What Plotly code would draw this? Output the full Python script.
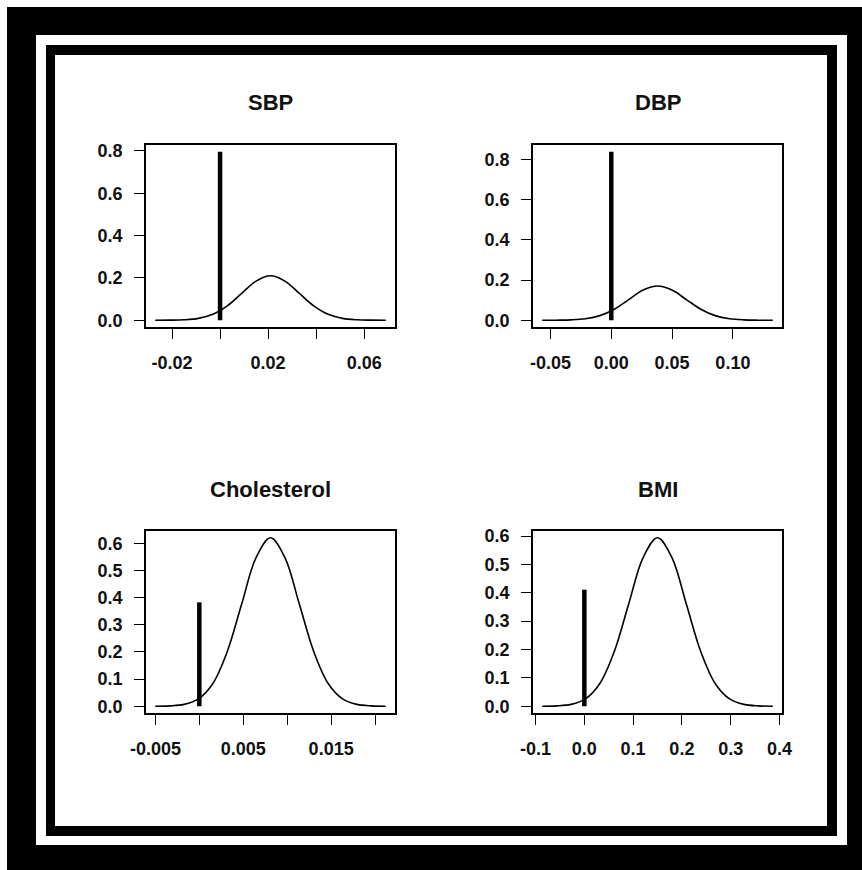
import plotly.graph_objects as go

W, H = 862, 870

# ---------------- data ----------------
titles = ["SBP", "DBP", "Cholesterol", "BMI"]

sbp_x = [-0.027, -0.021, -0.015, -0.009, -0.003, 0.003, 0.009, 0.015, 0.021,
         0.027, 0.033, 0.039, 0.045, 0.051, 0.057, 0.063, 0.069]
sbp_y = [0.0001, 0.0005, 0.0023, 0.009, 0.028, 0.068, 0.127, 0.185, 0.210,
         0.185, 0.127, 0.068, 0.028, 0.009, 0.0023, 0.0005, 0.0001]
sbp_bar = 0.796

dbp_x = [-0.0568, -0.0450, -0.0331, -0.0213, -0.0094, 0.0025, 0.0143, 0.0262, 0.038,
         0.0499, 0.0617, 0.0736, 0.0854, 0.0973, 0.1091, 0.1210, 0.1328]
dbp_y = [0.0001, 0.0004, 0.0019, 0.0075, 0.023, 0.055, 0.103, 0.150, 0.170,
         0.150, 0.103, 0.055, 0.023, 0.0075, 0.0019, 0.0004, 0.0001]
dbp_bar = 0.838

chol_x = [-0.00502, -0.00338, -0.00174, -0.0001, 0.00154, 0.00318, 0.00482, 0.00646, 0.0081,
          0.00974, 0.01138, 0.01302, 0.01466, 0.0163, 0.01794, 0.01958, 0.02122]
chol_y = [0.0002, 0.0014, 0.0069, 0.0273, 0.084, 0.2016, 0.3766, 0.548, 0.621,
          0.548, 0.3766, 0.2016, 0.084, 0.0273, 0.0069, 0.0014, 0.0002]
chol_bar = 0.383

bmi_x = [-0.0864, -0.0569, -0.0273, 0.0023, 0.0318, 0.0614, 0.0909, 0.1205, 0.150,
         0.1796, 0.2091, 0.2387, 0.2682, 0.2978, 0.3273, 0.3569, 0.3864]
bmi_y = [0.0002, 0.0013, 0.0066, 0.0261, 0.0804, 0.1929, 0.3603, 0.5242, 0.594,
         0.5242, 0.3603, 0.1929, 0.0804, 0.0261, 0.0066, 0.0013, 0.0002]
bmi_bar = 0.411

x_tickvals = [
    [-0.02, 0.0, 0.02, 0.04, 0.06],
    [-0.05, 0.0, 0.05, 0.10],
    [-0.005, 0.0, 0.005, 0.010, 0.015, 0.020],
    [-0.1, 0.0, 0.1, 0.2, 0.3, 0.4],
]
x_ticktext = [
    ["-0.02", "", "0.02", "", "0.06"],
    ["-0.05", "0.00", "0.05", "0.10"],
    ["-0.005", "", "0.005", "", "0.015", ""],
    ["-0.1", "0.0", "0.1", "0.2", "0.3", "0.4"],
]
y_tickvals = [
    [0.0, 0.2, 0.4, 0.6, 0.8],
    [0.0, 0.2, 0.4, 0.6, 0.8],
    [0.0, 0.1, 0.2, 0.3, 0.4, 0.5, 0.6],
    [0.0, 0.1, 0.2, 0.3, 0.4, 0.5, 0.6],
]
y_ticktext = [
    ["0.0", "0.2", "0.4", "0.6", "0.8"],
    ["0.0", "0.2", "0.4", "0.6", "0.8"],
    ["0.0", "0.1", "0.2", "0.3", "0.4", "0.5", "0.6"],
    ["0.0", "0.1", "0.2", "0.3", "0.4", "0.5", "0.6"],
]

curves = [(sbp_x, sbp_y, sbp_bar), (dbp_x, dbp_y, dbp_bar),
          (chol_x, chol_y, chol_bar), (bmi_x, bmi_y, bmi_bar)]

# ---------------- layout geometry (pixels) ----------------
boxes = [  # x0, x1, ytop, ybottom
    (146, 395, 145, 327),
    (533, 782, 145, 327),
    (146, 395, 531, 713),
    (533, 782, 531, 713),
]
title_y = [103, 103, 489, 489]

FONT = "Liberation Sans, Arial, Helvetica, sans-serif"
tickfont = dict(family=FONT, size=18, color="#111111", weight="bold")

fig = go.Figure()
layout = dict(
    width=W, height=H,
    margin=dict(l=0, r=0, t=0, b=0, pad=0, autoexpand=False),
    paper_bgcolor="white", plot_bgcolor="rgba(0,0,0,0)",
    showlegend=False, hovermode=False,
    shapes=[], annotations=[],
)

def px_x(p):
    return p / W

def px_y(p):
    return 1 - p / H

for i, ((cx, cy, bar), (bx0, bx1, byt, byb)) in enumerate(zip(curves, boxes)):
    n = "" if i == 0 else str(i + 1)
    xa, ya = "x" + n, "y" + n
    fig.add_trace(go.Scatter(x=cx, y=cy, mode="lines", xaxis=xa, yaxis=ya,
                             line=dict(color="black", width=1.6, shape="spline", smoothing=1.0)))
    fig.add_trace(go.Scatter(x=[0, 0], y=[0, bar], mode="lines", xaxis=xa, yaxis=ya,
                             line=dict(color="black", width=4.5)))
    xmin, xmax = min(cx), max(cx)
    span = xmax - xmin
    ymax = max(max(cy), bar)
    common = dict(showline=True, mirror=True, linecolor="black", linewidth=1.5,
                  ticks="outside", ticklen=10, tickwidth=1.3, tickcolor="black",
                  showgrid=False, zeroline=False, tickfont=tickfont, fixedrange=True,
                  automargin=False)
    layout["xaxis" + n] = dict(common, domain=[px_x(bx0), px_x(bx1)], anchor=ya,
                               range=[xmin - 0.04 * span, xmax + 0.04 * span],
                               tickmode="array", tickvals=x_tickvals[i], ticktext=x_ticktext[i],
                               ticklabelstandoff=9)
    layout["yaxis" + n] = dict(common, domain=[px_y(byb), px_y(byt)], anchor=xa,
                               range=[-0.04 * ymax, 1.04 * ymax],
                               tickmode="array", tickvals=y_tickvals[i], ticktext=y_ticktext[i],
                               ticklabelstandoff=8)
    layout["annotations"].append(dict(
        text=titles[i], xref="paper", yref="paper",
        x=px_x((bx0 + bx1) / 2), y=px_y(title_y[i]), xanchor="center", yanchor="middle",
        showarrow=False, font=dict(family=FONT, size=22, color="#111111", weight="bold")))

# frame
frame = [
    ("black", 7, 7, 862, 870),
    ("white", 36, 35, 847, 845),
    ("black", 46, 45, 837, 836),
    ("white", 55, 55, 827, 826),
]
for col, x0, y0, x1, y1 in frame:
    layout["shapes"].append(dict(type="rect", xref="paper", yref="paper", layer="below",
                                 x0=px_x(x0), x1=px_x(x1), y0=px_y(y1), y1=px_y(y0),
                                 fillcolor=col, line=dict(width=0)))

fig.update_layout(**layout)
fig.write_html("out.html", config=dict(displayModeBar=False))
